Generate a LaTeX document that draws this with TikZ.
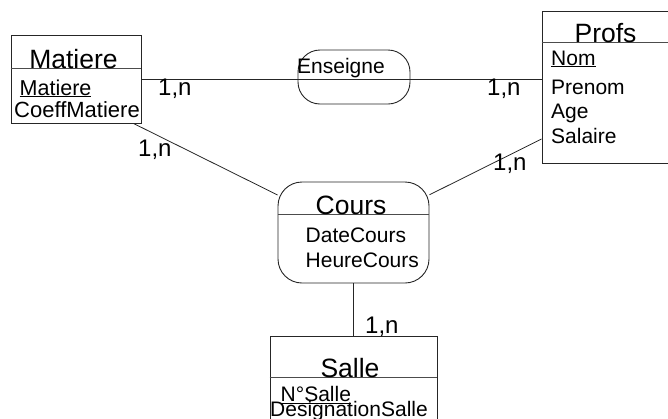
\documentclass[tikz,border=0pt]{standalone}
\usepackage{fontspec}
\setmainfont{Liberation Sans}[Ligatures=NoCommon]
\usepackage{tikz}

\begin{document}
\begin{tikzpicture}[x=1pt, y=-1pt]
\tikzset{
  entitybox/.style={rectangle, draw=black!85, line width=0.9pt, inner sep=0pt},
  assocbox/.style={rectangle, rounded corners=22pt, draw=black!85, line width=0.9pt, inner sep=0pt},
  headline/.style={draw=black!70, line width=0.9pt},
  link/.style={draw=black!85, line width=0.8pt},
  titletext/.style={font=\fontsize{26.5}{30}\selectfont, inner sep=0pt, anchor=base},
  attrtext/.style={font=\fontsize{21}{25}\selectfont, inner sep=0pt, anchor=base west},
  card/.style={font=\fontsize{24}{28}\selectfont, inner sep=0pt, anchor=base west}
}
\useasboundingbox (0,0) rectangle (668,418);
\clip (0,0) rectangle (668,418);

% entities and associations
\node[entitybox, minimum width=130pt, minimum height=88pt] (matiere) at (76,79) {};
\node[entitybox, minimum width=150pt, minimum height=152pt] (profs) at (617,87) {};
\node[entitybox, minimum width=167pt, minimum height=100pt] (salle) at (353.5,386) {};
\node[assocbox, minimum width=112pt, minimum height=54pt] (enseigne) at (354,77) {};
\node[assocbox, minimum width=151pt, minimum height=101pt, rounded corners=24pt] (cours) at (353.5,232.5) {};

\draw[headline] (matiere.west |- 0,68) -- (matiere.east |- 0,68);
\draw[headline] (profs.west |- 0,42) -- (profs.east |- 0,42);
\draw[headline] (salle.west |- 0,377) -- (salle.east |- 0,377);
\draw[headline] (cours.west |- 0,214) -- (cours.east |- 0,214);

% titles
\node[titletext] (matiere-t) at (73.5,68) {Matiere};
\node[titletext] (profs-t) at (605.5,42) {Profs};
\node[titletext] (salle-t) at (350,377) {Salle};
\node[titletext] (cours-t) at (351,214) {Cours};
\node[attrtext] (enseigne-t) at (297,73) {Enseigne};

% attributes
\node[attrtext, font=\fontsize{21.5}{25}\selectfont] (matiere-a1) at (19.5,95) {\underline{Matiere}};
\node[attrtext, font=\fontsize{22}{25}\selectfont] (matiere-a2) at (14,117) {CoeffMatiere};
\node[attrtext] (profs-a1) at (551,65) {\underline{Nom}};
\node[attrtext] (profs-a2) at (551,94) {Prenom};
\node[attrtext] (profs-a3) at (551,118) {Age};
\node[attrtext] (profs-a4) at (551,143) {Salaire};
\node[attrtext] (cours-a1) at (305.5,242) {DateCours};
\node[attrtext] (cours-a2) at (305.5,267) {HeureCours};
\node[attrtext] (salle-a1) at (280.5,401.5) {\underline{N°Salle}};
\node[attrtext] (salle-a2) at (270,416.5) {DesignationSalle};

% links
\draw[link] (matiere.east) -- (matiere.east -| profs.west);
\draw[link] ([xshift=-8pt]matiere.south east) -- (cours);
\draw[link] ([yshift=-52pt]profs.west) -- (cours);
\draw[link] (cours) -- (salle);

% cardinalities
\node[card] (c1) at (158,95) {1,n};
\node[card] (c2) at (487,95) {1,n};
\node[card] (c3) at (138,156) {1,n};
\node[card] (c4) at (493,170) {1,n};
\node[card] (c5) at (365,333) {1,n};
\end{tikzpicture}
\end{document}
